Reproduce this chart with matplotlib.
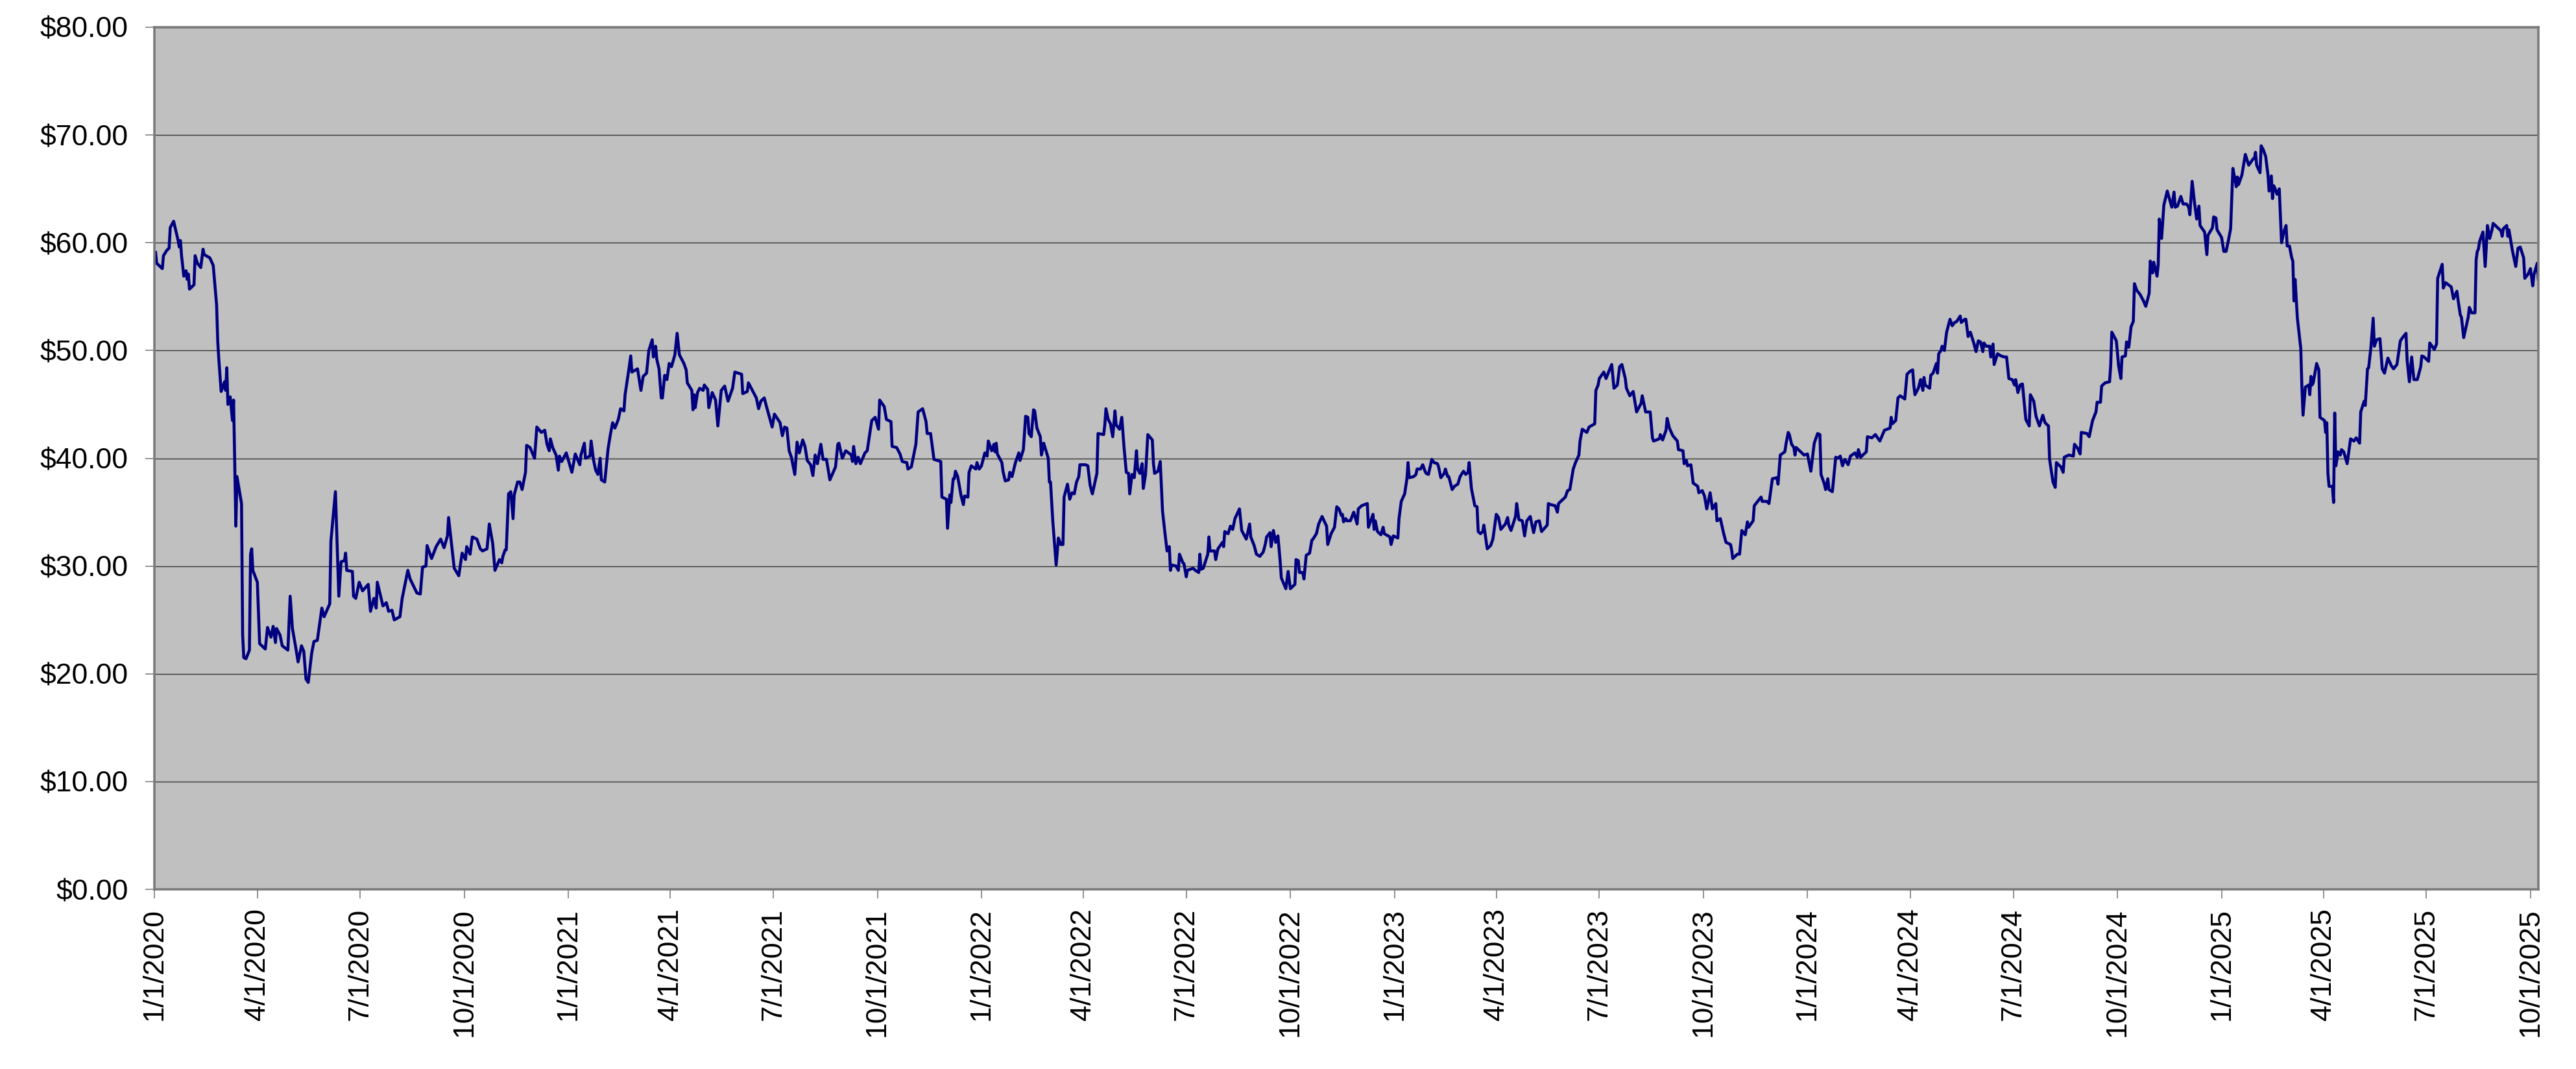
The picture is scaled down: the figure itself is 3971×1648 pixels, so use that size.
import matplotlib
matplotlib.use("Agg")
import matplotlib.pyplot as plt
import numpy as np

# ---- data: trading-day offsets from 1/1/2020 and closing prices ----
days_seg1 = [1,2,7,8,11,13,14,17,21,22,
             23,24,26,28,29,30,31,35,36,38,
             41,43,44,49,52,55,56,57,59,62,
             63,64,65,67,69,70,72,73,77,78,
             79,81,84,85,86,87,91,93,98,100,
             103,105,107,108,111,113,118,120,122,125,
             127,130,132,134,136,139,141,144,148,150,
             155,156,160,163,165,168,169,170,175,176,
             178,181,184,189,191,194,196,197,202,205,
             207,210,212,217,219,224,226,232,235,237,
             240,241,245,249,253,256,259,260,265,269,
             272,275,276,279,281,285,288,290,294,296,
             299,301,305,307,308,310,311,313,315,317,
             318,321,323,325,328,329,332,336,338,342,
             345,347,349]
price_seg1 = [59.1,58.1,57.6,58.8,59.3,59.5,61.4,62.0,60.2,59.6,
              60.2,58.8,56.9,57.4,56.6,57.1,55.7,56.1,58.8,58.1,
              57.7,59.4,58.9,58.6,57.9,54.2,50.8,49.1,46.2,47.1,
              46.3,48.4,45.0,45.7,43.5,45.4,33.7,38.3,35.8,23.6,
              21.5,21.4,22.2,31.1,31.6,29.6,28.5,22.8,22.3,24.3,
              23.4,24.4,22.9,24.2,23.6,22.6,22.2,27.2,24.2,22.4,
              21.1,22.6,22.1,19.5,19.2,21.9,23.0,23.1,26.1,25.3,
              26.5,32.3,36.9,27.2,30.4,30.5,31.2,29.6,29.5,27.2,
              27.0,28.5,27.7,28.3,25.8,27.0,26.1,28.5,26.3,26.6,
              25.8,25.9,25.0,25.3,27.0,29.6,28.8,27.5,27.4,29.9,
              30.0,31.9,30.7,31.8,32.5,31.7,32.8,34.5,29.8,29.1,
              31.2,30.6,31.8,31.1,32.7,32.5,31.6,31.4,31.6,33.9,
              32.1,29.6,30.6,30.3,30.9,31.5,31.5,36.7,36.9,34.4,
              36.6,37.8,37.8,37.1,38.7,41.2,41.0,40.0,42.9,42.4,
              42.6,41.3,40.7]

days_seg2 = [350,352,355,357,358,360,364,369,372,376,
             377,380,381,385,386,388,390,392,394,395,
             398,401,403,405,407,410,412,415,416,419,
             421,422,427,430,432,435,437,440,441,443,
             444,446,448,449,451,453,455,457,460,462,
             464,468,470,471,475,476,477,478,480,482,
             485,486,489,490,493,496,498,501,504,507,
             511,513,519,520,524,525,528,532,534,536,
             539,541,546,548,553,555,557,559,561,563,
             566,568,570,573,575,577,580,582,584,586,
             589,591,594,597,602,604,605,608,611,616,
             617,618,620,622,624,628,630,634,637,640,
             641,645,647,651,652,656,659,661,665,666,
             669,673,675,679,682,683,686,689]
price_seg2 = [41.8,41.0,40.3,38.9,40.2,39.7,40.5,38.7,40.4,39.4,
              40.3,41.4,40.0,40.2,41.6,39.9,38.9,38.5,40.0,38.0,
              37.8,40.9,42.2,43.3,42.8,43.6,44.6,44.4,45.9,48.0,
              49.5,48.0,48.3,46.3,47.6,47.9,50.0,51.0,49.4,50.4,
              49.2,48.3,45.6,45.6,47.7,47.3,48.8,48.5,49.6,51.6,
              49.6,48.8,48.2,47.0,46.3,44.5,45.9,44.7,46.1,46.5,
              46.3,46.8,46.4,44.7,46.1,45.4,43.0,46.3,46.7,45.3,
              46.5,48.0,47.8,46.0,46.2,47.0,46.4,45.6,44.6,45.3,
              45.6,44.8,42.9,44.1,43.3,42.1,42.9,42.8,40.7,40.1,
              38.5,41.5,40.5,41.7,41.1,39.8,39.4,38.4,40.3,39.5,
              41.3,39.9,39.9,38.0,39.2,41.3,41.4,40.0,40.7,40.3,
              39.7,41.1,39.5,40.1,39.5,40.5,40.7,43.5,43.8,42.7,
              45.4,44.8,43.6,43.4,41.1,41.0,40.4,39.7,39.6,39.0,
              39.2,41.3,44.3,44.6,43.4,42.3,42.3,39.9]

days_seg3 = [695,696,700,701,703,704,706,707,708,710,
             713,715,716,719,720,722,726,727,729,731,
             734,736,737,740,742,743,744,745,749,750,
             752,755,756,758,761,764,765,768,770,772,
             773,775,777,778,780,783,784,786,790,791,
             792,794,797,799,801,803,804,807,809,811,
             813,815,817,818,820,823,825,827,829,833,
             834,839,840,841,843,845,847,849,850,853,
             855,857,859,861,862,864,866,868,869,871,
             873,874,876,878,882,883,884,887,889,891,
             893,895,897,898,899,903,905,906,909,910,
             912,913,918,920,923,924,925,927,931,932,
             933,937,938,940,944,945,946,949,951,953,
             955,959,961,965,968,969,972,974,977,980,
             982,983,986,987,989,991,993,995,996,1000,
             1002,1004,1008,1009,1011,1012,1015,1016,1018,1021,
             1023,1024,1027,1029,1032,1036,1037,1040,1043]
price_seg3 = [39.7,36.4,36.2,33.5,36.6,35.9,38.1,38.1,38.8,38.3,
              36.5,35.7,36.5,36.4,38.7,39.3,39.0,39.6,39.0,39.3,
              40.5,40.2,41.6,40.7,41.3,40.6,41.4,40.4,39.6,38.8,
              37.9,38.0,38.7,38.3,39.6,40.5,39.8,40.8,43.9,43.8,
              42.3,42.0,44.5,44.4,42.8,42.0,40.3,41.4,40.0,37.8,
              37.8,34.2,30.1,32.6,32.0,32.0,36.4,37.6,36.2,36.8,
              36.7,37.8,38.3,39.4,39.4,39.4,39.3,37.5,36.7,38.6,
              42.3,42.2,43.1,44.6,43.6,43.2,42.0,44.4,43.1,42.7,
              43.8,41.0,38.7,38.6,36.7,38.5,38.2,40.7,39.0,38.6,
              39.5,37.2,38.5,42.2,41.7,39.5,38.6,38.8,39.7,35.1,
              33.2,31.4,31.8,29.6,30.1,30.0,29.6,31.1,30.3,30.2,
              29.0,29.6,29.8,29.6,29.4,31.1,29.7,29.8,31.1,32.7,
              31.4,31.4,30.6,31.6,32.2,31.8,33.2,33.0,33.7,33.4,
              34.4,35.3,33.3,32.5,33.9,32.7,31.9,31.1,30.9,31.3,
              32.1,32.7,33.1,31.8,33.3,32.2,32.8,30.4,28.9,27.9,
              29.5,27.9,28.3,30.6,30.5,29.4,29.4,28.8,31.0,31.2,
              32.4,32.5,33.0,33.9,34.6,33.7,32.0,33.0,33.6]

days_seg4 = [1045,1047,1049,1050,1051,1053,1054,1057,1060,1063,
             1064,1067,1072,1073,1075,1077,1078,1079,1081,1084,
             1086,1087,1092,1093,1095,1099,1100,1102,1105,1107,
             1108,1109,1113,1115,1116,1119,1121,1123,1124,1126,
             1129,1131,1134,1135,1137,1140,1141,1143,1144,1147,
             1149,1152,1154,1157,1159,1161,1162,1164,1167,1169,
             1170,1172,1174,1175,1178,1181,1183,1186,1188,1190,
             1194,1196,1197,1199,1203,1204,1206,1209,1211,1213,
             1216,1219,1221,1224,1226,1231,1232,1234,1238,1240,
             1241,1247,1249,1251,1254,1256,1259,1260,1262,1266,
             1268,1273,1274,1276,1277,1281,1283,1286,1288,1290,
             1293,1295,1297,1300,1301,1304,1307,1310,1314,1315,
             1318,1322,1324,1325,1330,1331,1333,1336,1337,1339,
             1342,1346,1347,1351,1352,1354,1355,1358,1360,1364,
             1365,1368,1370,1372,1375,1377,1380,1381,1384,1387,
             1389,1393]
price_seg4 = [35.5,35.3,34.7,34.8,34.1,34.4,34.2,34.2,35.0,33.9,
              35.3,35.6,35.8,33.6,34.2,34.8,33.4,34.2,33.2,32.9,
              33.6,33.0,32.7,32.0,32.8,32.6,34.4,36.0,36.7,38.1,
              39.6,38.2,38.3,38.5,39.0,39.0,39.4,38.8,38.6,38.5,
              39.9,39.6,39.5,39.2,38.2,38.6,39.0,38.3,38.3,37.1,
              37.4,37.6,38.3,38.8,38.5,38.7,39.6,37.2,35.6,35.5,
              33.2,33.0,33.2,33.8,31.6,31.9,32.5,34.8,34.5,33.4,
              33.9,34.5,33.8,33.3,34.6,35.8,34.3,34.2,32.8,34.2,
              34.6,33.1,34.1,34.2,33.2,33.8,35.8,35.7,35.6,35.0,
              35.8,36.4,37.0,37.1,39.0,39.6,40.3,41.6,42.7,42.4,
              42.9,43.2,46.3,46.8,47.4,48.0,47.4,48.2,48.7,46.5,
              46.8,48.5,48.7,47.4,46.5,45.8,46.2,44.3,45.1,45.8,
              44.3,44.3,41.9,41.6,41.8,42.2,41.7,42.6,43.7,42.8,
              42.1,41.6,40.8,40.7,39.5,39.8,39.3,39.4,37.7,37.4,
              36.8,37.0,36.5,35.3,36.8,35.3,35.8,34.2,34.4,33.0,
              32.2,32.0]

days_seg5 = [1394,1395,1399,1401,1403,1406,1408,1409,1413,1414,
             1417,1420,1421,1425,1427,1430,1434,1435,1437,1441,
             1442,1444,1445,1447,1449,1450,1451,1455,1458,1461,
             1464,1467,1470,1472,1473,1476,1477,1479,1480,1483,
             1486,1488,1490,1492,1494,1497,1499,1503,1505,1506,
             1508,1513,1514,1518,1521,1525,1527,1529,1534,1535,
             1536,1539,1541,1543,1547,1549,1552,1554,1555,1556,
             1559,1561,1563,1564,1565,1569,1570,1572,1575,1576,
             1577,1579,1580,1582,1584,1587,1589,1591,1593,1596,
             1597,1600,1601,1603,1605,1608,1610,1612,1614,1616,
             1617,1619,1622,1623,1625,1626,1629,1632,1635,1637,
             1639,1642,1644,1645,1647,1649,1651,1654,1657,1658,
             1661,1663,1666,1669,1671,1674,1675,1678,1680,1681,
             1685,1687,1688,1692,1696,1697,1700,1702,1703,1708,
             1710,1713,1716,1717,1720,1721,1724,1728,1729,1730,
             1734,1736,1738,1739,1742,1743]
price_seg5 = [31.5,30.7,31.1,31.1,33.3,32.9,34.1,33.6,34.2,35.6,
              36.0,36.4,36.0,36.0,35.8,38.1,38.2,37.6,40.3,40.6,
              41.3,42.4,42.2,41.3,41.0,40.3,41.0,40.6,40.3,40.4,
              38.8,41.4,42.3,42.2,38.5,37.6,37.1,38.1,37.1,36.9,
              40.1,40.0,40.2,39.3,39.9,39.4,40.2,40.5,40.1,40.8,
              40.1,40.6,42.0,41.9,42.2,41.6,42.1,42.6,42.8,43.8,
              43.2,43.5,45.6,45.8,45.5,47.8,48.1,48.2,46.8,45.9,
              46.5,47.3,46.3,47.5,46.8,46.5,47.7,47.9,48.8,47.9,
              49.7,50.0,50.4,50.0,51.7,52.9,52.3,52.6,52.7,53.2,
              52.6,52.9,52.9,51.3,51.7,50.7,49.9,50.9,50.8,49.9,
              50.7,50.4,50.4,49.4,50.6,48.7,49.7,49.5,49.4,49.4,
              47.4,47.3,46.8,47.3,46.1,46.8,46.9,43.6,43.0,45.9,
              45.3,43.9,43.0,44.0,43.3,43.0,39.9,37.8,37.3,39.6,
              39.2,38.7,40.1,40.3,40.2,41.3,40.9,40.4,42.4,42.3,
              42.0,43.5,44.3,45.2,45.2,46.7,47.0,47.1,48.6,51.7,
              50.9,48.6,47.4,49.4,49.5,50.8]

days_seg6 = [1745,1747,1749,1750,1752,1755,1758,1760,1763,1764,
             1766,1767,1770,1771,1772,1774,1776,1779,1783,1785,
             1786,1788,1791,1793,1796,1798,1799,1801,1803,1805,
             1807,1808,1812,1814,1815,1819,1820,1822,1823,1827,
             1829,1831,1833,1835,1837,1839,1840,1841,1842,1845,
             1848,1851,1855,1856,1857,1858,1861,1862,1864,1866,
             1868,1869,1871,1872,1873,1874,1876,1878,1880,1882,
             1884,1885,1887,1889,1890,1891,1892,1894,1897,1898,
             1899,1901,1904,1905,1906,1907,1908,1911,1913,1914,
             1918,1919,1920,1921,1922,1925,1926,1927,1928,1930,
             1932,1933,1935,1938,1941,1944,1946,1949,1950,1953,
             1954,1956,1957,1959,1961,1962,1964,1967,1969,1971,
             1974,1977,1979,1982,1985,1987,1990,1991,1993,1995,
             1997,2000,2003,2004,2006,2010,2011,2015,2017,2018,
             2022,2023,2025,2030,2032,2035,2036,2038,2039,2041,
             2045,2046,2048,2051,2052,2053,2054,2055,2058,2060,
             2062,2064,2066,2067,2072,2074,2075,2076,2079,2080,
             2081,2084,2087,2089,2091,2094,2095,2098,2100,2102,
             2103,2106,2107]
price_seg6 = [50.3,52.2,52.7,56.2,55.6,55.2,54.6,54.1,55.3,58.3,
              57.2,58.2,56.9,58.0,62.2,60.4,63.5,64.8,63.3,64.7,
              63.3,63.4,64.3,63.6,63.6,63.3,62.6,65.7,63.8,62.2,
              63.4,61.6,61.0,58.9,60.7,61.4,62.4,62.3,61.2,60.5,
              59.2,59.2,60.2,61.3,66.9,65.8,65.2,66.1,65.4,66.3,
              68.2,67.2,67.8,67.8,68.4,67.2,66.5,69.0,68.6,68.0,
              66.3,64.8,66.2,64.1,65.3,65.1,64.5,65.0,60.0,61.0,
              61.6,59.7,59.7,58.6,58.3,54.6,56.6,53.0,50.2,46.6,
              44.0,46.6,46.8,45.9,47.6,46.8,47.0,48.8,48.2,43.8,
              43.5,42.4,43.3,38.6,37.4,37.4,35.9,44.2,39.3,40.6,
              40.3,40.8,40.6,39.5,41.8,41.6,41.9,41.4,44.3,45.3,
              44.9,48.3,48.4,50.3,53.0,50.4,51.0,51.1,48.3,47.9,
              49.3,48.6,48.3,48.7,50.9,51.2,51.6,49.1,47.1,49.4,
              47.3,47.3,48.5,49.5,49.4,49.0,50.7,50.1,50.6,56.7,
              58.0,55.8,56.3,55.9,54.8,55.5,54.7,53.3,53.1,51.2,
              53.1,54.0,53.5,53.5,58.4,59.2,59.4,60.1,61.0,57.8,
              61.6,60.4,61.2,61.8,61.3,61.1,60.6,61.3,61.6,60.6,
              61.2,59.3,57.8,59.5,59.6,58.6,56.7,57.1,57.6,56.0,
              57.0,58.1,56.6]

start_date = "2020-01-01"
y_tick_values = [0, 10, 20, 30, 40, 50, 60, 70, 80]
x_tick_dates = ["2020-01-01", "2020-04-01", "2020-07-01", "2020-10-01",
                "2021-01-01", "2021-04-01", "2021-07-01", "2021-10-01",
                "2022-01-01", "2022-04-01", "2022-07-01", "2022-10-01",
                "2023-01-01", "2023-04-01", "2023-07-01", "2023-10-01",
                "2024-01-01", "2024-04-01", "2024-07-01", "2024-10-01",
                "2025-01-01", "2025-04-01", "2025-07-01", "2025-10-01"]

# ---- assemble ----
day_offsets = np.array(days_seg1 + days_seg2 + days_seg3 + days_seg4 + days_seg5 + days_seg6)
prices = np.array(price_seg1 + price_seg2 + price_seg3 + price_seg4 + price_seg5 + price_seg6)
n = min(len(day_offsets), len(prices))
dates = np.datetime64(start_date) + day_offsets[:n].astype("timedelta64[D]")
prices = prices[:n]

plt.rcParams["font.family"] = ["Liberation Sans", "DejaVu Sans"]

W, H = 3971, 1648
fig = plt.figure(figsize=(W / 100, H / 100), dpi=100)
left, right, top, bottom = 238, 3913, 42, 1371
ax = fig.add_axes([left / W, 1 - bottom / H, (right - left) / W, (bottom - top) / H])
ax.set_facecolor("#C0C0C0")

ax.plot(dates, prices, color="#000080", linewidth=3.3, solid_joinstyle="round", zorder=3)

ax.set_xlim(np.datetime64(start_date), dates[-1])
ax.set_ylim(0, 80)

ax.set_yticks(y_tick_values)
ax.set_yticklabels([f"${v:.2f}" for v in y_tick_values])

xt = np.array(x_tick_dates, dtype="datetime64[D]")
ax.set_xticks(xt)
xl = []
for s in x_tick_dates:
    y, m, d = s.split("-")
    xl.append(f"{int(m)}/{int(d)}/{y}")
ax.set_xticklabels(xl, rotation=90, va="top", ha="center")

ax.yaxis.grid(True, color="#353535", linewidth=1.0, zorder=1)
ax.xaxis.grid(False)
ax.set_axisbelow(True)

for sp in ax.spines.values():
    sp.set_color("#7a7a7a")
    sp.set_linewidth(2.6)
    sp.set_zorder(4)

ax.tick_params(axis="y", direction="out", length=10, width=1.2, color="#7f7f7f",
               labelsize=32, pad=19, labelcolor="black")
ax.tick_params(axis="x", direction="out", length=10, width=1.2, color="#7f7f7f",
               labelsize=32, pad=11, labelcolor="black")

fig.savefig("out.png", dpi=100, facecolor="white")
